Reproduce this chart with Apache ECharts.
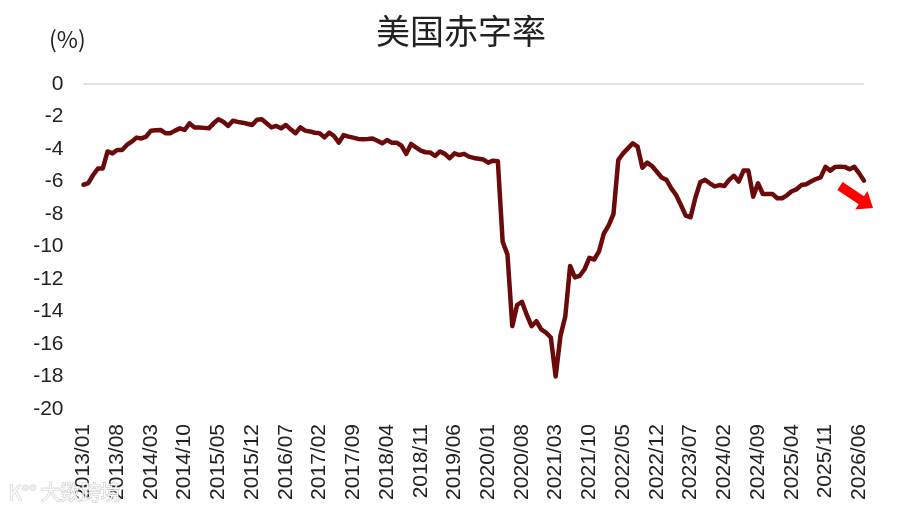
<!DOCTYPE html>
<html>
<head>
<meta charset="utf-8">
<script src="https://cdn.jsdelivr.net/npm/echarts@6/dist/echarts.min.js"></script>
<style>
html,body{margin:0;padding:0;background:#fff;}
#c{width:900px;height:513px;}
</style>
</head>
<body>
<div id="c"></div>
<script>
// Categories: monthly from 2013/01 to 2026/07
const startYear = 2013, startMonth = 1, monthCount = 163;
const categories = [];
for (let i = 0; i < monthCount; i++) {
  const m = startMonth - 1 + i;
  const y = startYear + Math.floor(m / 12);
  const mm = (m % 12) + 1;
  categories.push(y + '/' + (mm < 10 ? '0' + mm : mm));
}

// US deficit ratio (%)
const deficitRatio = [
  -6.2, -6.1, -5.6, -5.2, -5.2, -4.15, -4.27, -4.06, -4.06, -3.75,
  -3.55, -3.3, -3.35, -3.24, -2.87, -2.85, -2.83, -3.03, -3.03, -2.87,
  -2.73, -2.83, -2.42, -2.67, -2.67, -2.7, -2.73, -2.42, -2.17, -2.32,
  -2.58, -2.26, -2.33, -2.38, -2.45, -2.52, -2.2, -2.17, -2.42, -2.67,
  -2.58, -2.73, -2.52, -2.79, -3.03, -2.67, -2.87, -2.92, -3.0, -3.03,
  -3.28, -2.99, -3.2, -3.61, -3.14, -3.24, -3.3, -3.38, -3.4, -3.38,
  -3.35, -3.49, -3.65, -3.45, -3.61, -3.61, -3.8, -4.3, -3.69, -3.9,
  -4.1, -4.2, -4.22, -4.43, -4.15, -4.3, -4.57, -4.27, -4.37, -4.3,
  -4.47, -4.55, -4.6, -4.65, -4.84, -4.72, -4.75, -9.7, -10.5, -14.9,
  -13.6, -13.4, -14.2, -14.9, -14.6, -15.1, -15.3, -15.6, -18.0, -15.5,
  -14.3, -11.2, -11.9, -11.8, -11.4, -10.7, -10.8, -10.3, -9.2, -8.7,
  -8.0, -4.68, -4.27, -3.96, -3.65, -3.85, -5.15, -4.84, -5.05, -5.4,
  -5.75, -5.9, -6.42, -6.83, -7.45, -8.1, -8.2, -7.0, -6.05, -5.9,
  -6.11, -6.3, -6.22, -6.28, -5.9, -5.65, -6.0, -5.33, -5.33, -6.93,
  -6.11, -6.77, -6.77, -6.77, -7.03, -7.03, -6.85, -6.6, -6.48, -6.22,
  -6.17, -6.0, -5.85, -5.75, -5.1, -5.33, -5.1, -5.09, -5.1, -5.25,
  -5.1, -5.5, -5.95
];

const yTicks = { min: -20, max: 0, step: 2 };

const chart = echarts.init(document.getElementById('c'));

// Red trend arrow annotation (pixel geometry)
function arrowPoints(sx, sy, tx, ty, bodyHalf, headHalf, headLen) {
  const dx = tx - sx, dy = ty - sy, L = Math.hypot(dx, dy);
  const ux = dx / L, uy = dy / L, px = -uy, py = ux;
  const bx = tx - ux * headLen, by = ty - uy * headLen;
  return [
    [sx + px * bodyHalf, sy + py * bodyHalf],
    [bx + px * bodyHalf, by + py * bodyHalf],
    [bx + px * headHalf, by + py * headHalf],
    [tx, ty],
    [bx - px * headHalf, by - py * headHalf],
    [bx - px * bodyHalf, by - py * bodyHalf],
    [sx - px * bodyHalf, sy - py * bodyHalf]
  ];
}

const font = '"Liberation Sans", Arial, sans-serif';

chart.setOption({
  animation: false,
  backgroundColor: '#fff',
  title: {
    text: '美国赤字率',
    left: 456,
    top: 9,
    textAlign: 'center',
    textStyle: { fontFamily: '"Noto Sans CJK SC", sans-serif', fontSize: 34, fontWeight: 'normal', color: '#222' }
  },
  grid: { left: 83.5, right: 36, top: 84, bottom: 104, containLabel: false },
  xAxis: {
    type: 'category',
    data: categories,
    boundaryGap: false,
    axisLine: { show: false },
    axisTick: { show: false },
    splitLine: { show: false },
    axisLabel: {
      interval: 6,
      rotate: 90,
      margin: 15,
      color: '#222',
      fontSize: 21,
      fontFamily: font
    }
  },
  yAxis: {
    type: 'value',
    min: yTicks.min,
    max: yTicks.max,
    interval: yTicks.step,
    axisLine: { show: false },
    axisTick: { show: false },
    splitLine: { show: false },
    axisLabel: { margin: 20, color: '#222', fontSize: 21, fontFamily: font }
  },
  series: [{
    type: 'line',
    data: deficitRatio,
    symbol: 'none',
    lineStyle: { color: '#6b0a0a', width: 4.5, join: 'round', cap: 'round' },
    z: 3,
    markLine: {
      silent: true,
      symbol: 'none',
      label: { show: false },
      lineStyle: { color: '#d9d9d9', width: 1.5, type: 'solid' },
      data: [{ yAxis: 0 }],
      z: 1
    }
  }],
  graphic: [
    {
      type: 'text', left: 49, top: 28,
      style: { text: '(%)', fontSize: 23, fontFamily: '"Noto Sans CJK SC", sans-serif', fill: '#222' }
    },
    {
      type: 'polygon',
      shape: { points: arrowPoints(840, 186, 873, 208, 4.8, 11, 14) },
      style: { fill: '#ff0000' }, z: 10
    },
    {
      type: 'text', left: 8, top: 482,
      style: { text: 'K°° 大数跨境', fontSize: 20, fontFamily: '"Noto Sans CJK SC", sans-serif',
               fill: 'rgba(255,255,255,0.9)', stroke: 'rgba(160,160,160,0.55)', lineWidth: 1.2 },
      z: 20
    }
  ]
});
</script>
</body>
</html>
